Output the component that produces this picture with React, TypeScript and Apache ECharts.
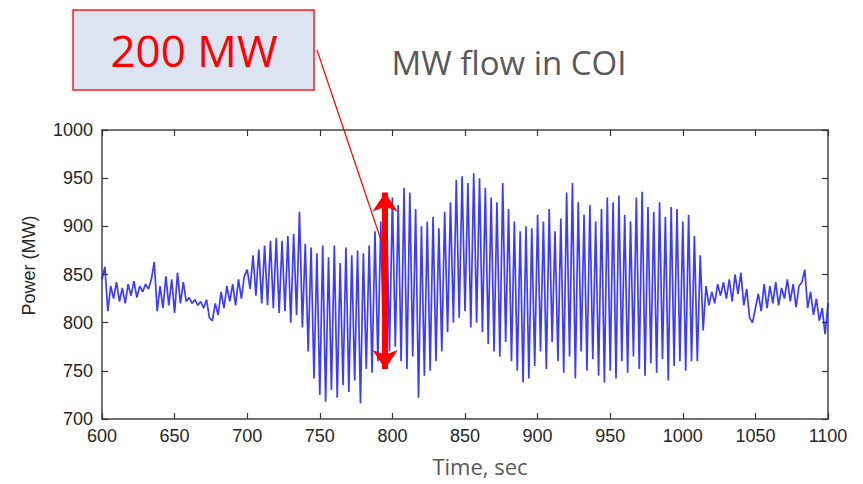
import React, { useEffect, useRef } from "react";
import * as echarts from "echarts";

// Sample step (sec) of the recorded MW flow, starting at 600 s
const startTime = 600;
const stepSec = 2;

// Calm period 600–698 s
const calmBefore = [
  845, 858, 812, 838, 825, 842, 822, 836, 820, 840,
  828, 843, 826, 838, 832, 840, 835, 845, 863, 812,
  838, 815, 848, 818, 845, 810, 852, 820, 842, 822,
  826, 820, 824, 818, 822, 815, 824, 805, 802, 820,
  808, 832, 815, 838, 822, 840, 818, 845, 825, 848,
];
// Growing oscillation 700–738 s
const growth = [
  855, 835, 870, 828, 876, 820, 880, 818, 885, 815,
  888, 810, 885, 812, 890, 800, 892, 808, 915, 795,
];
// Oscillation 740–798 s
const swingA = [
  882, 770, 878, 742, 872, 725, 880, 718, 868, 730,
  880, 722, 862, 735, 878, 728, 870, 740, 875, 716,
  872, 752, 880, 748, 895, 760, 905, 770, 920, 770,
];
// Oscillation 800–898 s
const swingB = [
  930, 775, 922, 760, 940, 752, 935, 765, 918, 722,
  900, 745, 905, 750, 910, 760, 898, 770, 915, 790,
  925, 800, 948, 805, 952, 812, 945, 795, 955, 800,
  950, 790, 940, 778, 930, 770, 925, 765, 945, 780,
  918, 760, 905, 750, 895, 738, 900, 742, 898, 755,
];
// Oscillation 900–1008 s
const swingC = [
  912, 770, 905, 752, 918, 780, 895, 760, 908, 748,
  935, 765, 945, 742, 925, 770, 912, 750, 922, 762,
  905, 745, 918, 738, 930, 750, 925, 742, 932, 760,
  912, 748, 905, 765, 930, 752, 936, 745, 920, 758,
  915, 748, 925, 762, 910, 740, 920, 755, 918, 760,
  905, 750, 912, 760, 890,
];
// Damped / calm period 1010–1100 s
const calmAfter = [
  760, 870, 792, 838, 818, 832, 820, 840, 828, 842,
  825, 845, 822, 850, 830, 852, 818, 835, 805, 800,
  815, 830, 812, 840, 815, 838, 820, 842, 818, 836,
  825, 845, 822, 840, 816, 838, 842, 855, 815, 832,
  808, 825, 802, 815, 788, 820,
];

const xTicks = { min: 600, max: 1100, interval: 50 };
const yTicks = { min: 700, max: 1000, interval: 50 };

// Swing annotation (time, top MW, bottom MW)
const swingTime = 795;
const swingTop = 935;
const swingBottom = 752;

const titleText = "MW flow in COI";
const boxText = "200 MW";

export default function App() {
  const ref = useRef<HTMLDivElement>(null);

  useEffect(() => {
    if (!ref.current) return;
    const chart = echarts.init(ref.current, null, { renderer: "svg" });
    const values = [
      ...calmBefore,
      ...growth,
      ...swingA,
      ...swingB,
      ...swingC,
      ...calmAfter,
    ];
    const data = values.map((v, i) => [startTime + i * stepSec, v]);

    const axisLine = { show: true, lineStyle: { color: "#444", width: 1.5 } };
    const tick = { show: true, inside: true, length: 6, lineStyle: { color: "#333", width: 1.2 } };
    const labelFont = {
      fontFamily: "Liberation Sans",
      fontSize: 18,
      color: "#262626",
      formatter: (v: number) => String(v),
    };

    chart.setOption({
      animation: false,
      backgroundColor: "#ffffff",
      grid: { left: 102, right: 35, top: 130, bottom: 65, containLabel: false },
      xAxis: [
        {
          type: "value",
          min: xTicks.min,
          max: xTicks.max,
          interval: xTicks.interval,
          position: "bottom",
          axisLine,
          axisTick: tick,
          splitLine: { show: false },
          axisLabel: { ...labelFont, margin: 8 },
          name: "Time, sec",
          nameLocation: "middle",
          nameGap: 36,
          nameTextStyle: {
            fontFamily: "Open Sans",
            fontSize: 22,
            color: "#595959",
            padding: [0, 0, 0, 30],
          },
        },
        {
          type: "value",
          min: xTicks.min,
          max: xTicks.max,
          interval: xTicks.interval,
          position: "top",
          axisLine,
          axisTick: tick,
          splitLine: { show: false },
          axisLabel: { show: false },
        },
      ],
      yAxis: [
        {
          type: "value",
          min: yTicks.min,
          max: yTicks.max,
          interval: yTicks.interval,
          position: "left",
          axisLine,
          axisTick: tick,
          splitLine: { show: false },
          axisLabel: { ...labelFont, margin: 9 },
          name: "Power (MW)",
          nameLocation: "middle",
          nameGap: 64,
          nameTextStyle: {
            fontFamily: "Liberation Sans",
            fontSize: 18,
            color: "#262626",
            padding: [0, 0, 0, 18],
          },
        },
        {
          type: "value",
          min: yTicks.min,
          max: yTicks.max,
          interval: yTicks.interval,
          position: "right",
          axisLine,
          axisTick: tick,
          splitLine: { show: false },
          axisLabel: { show: false },
        },
      ],
      series: [
        {
          type: "line",
          data,
          xAxisIndex: 0,
          yAxisIndex: 0,
          showSymbol: false,
          symbol: "none",
          lineStyle: { color: "#1a1aff", width: 1.7, opacity: 0.85 },
          z: 2,
          markLine: {
            silent: true,
            symbol: ["arrow", "arrow"],
            symbolSize: [19, 19],
            label: { show: false },
            lineStyle: { color: "#ff0000", width: 6, type: "solid", opacity: 1 },
            data: [
              [
                { coord: [swingTime, swingTop] },
                { coord: [swingTime, swingBottom] },
              ],
            ],
            z: 5,
          },
        },
      ],
      graphic: [
        {
          type: "rect",
          shape: { x: 73, y: 10, width: 241, height: 80 },
          style: { fill: "#dce4f1", stroke: "#ff1a1a", lineWidth: 1.5 },
          z: 10,
        },
        {
          type: "text",
          x: 194,
          y: 50,
          style: {
            text: boxText,
            fill: "#ff0000",
            fontFamily: "Open Sans",
            fontSize: 44,
            align: "center",
            verticalAlign: "middle",
          },
          z: 11,
        },
        {
          type: "text",
          x: 509,
          y: 62,
          style: {
            text: titleText,
            fill: "#595959",
            fontFamily: "Open Sans",
            fontSize: 33,
            align: "center",
            verticalAlign: "middle",
          },
          z: 11,
        },
        {
          type: "line",
          shape: { x1: 317, y1: 50, x2: 382, y2: 243 },
          style: { stroke: "#ff0000", lineWidth: 1.2 },
          z: 12,
        },
      ],
    });

    return () => chart.dispose();
  }, []);

  return (
    <div
      ref={ref}
      style={{ position: "absolute", left: 0, top: 0, width: 863, height: 484 }}
    />
  );
}
